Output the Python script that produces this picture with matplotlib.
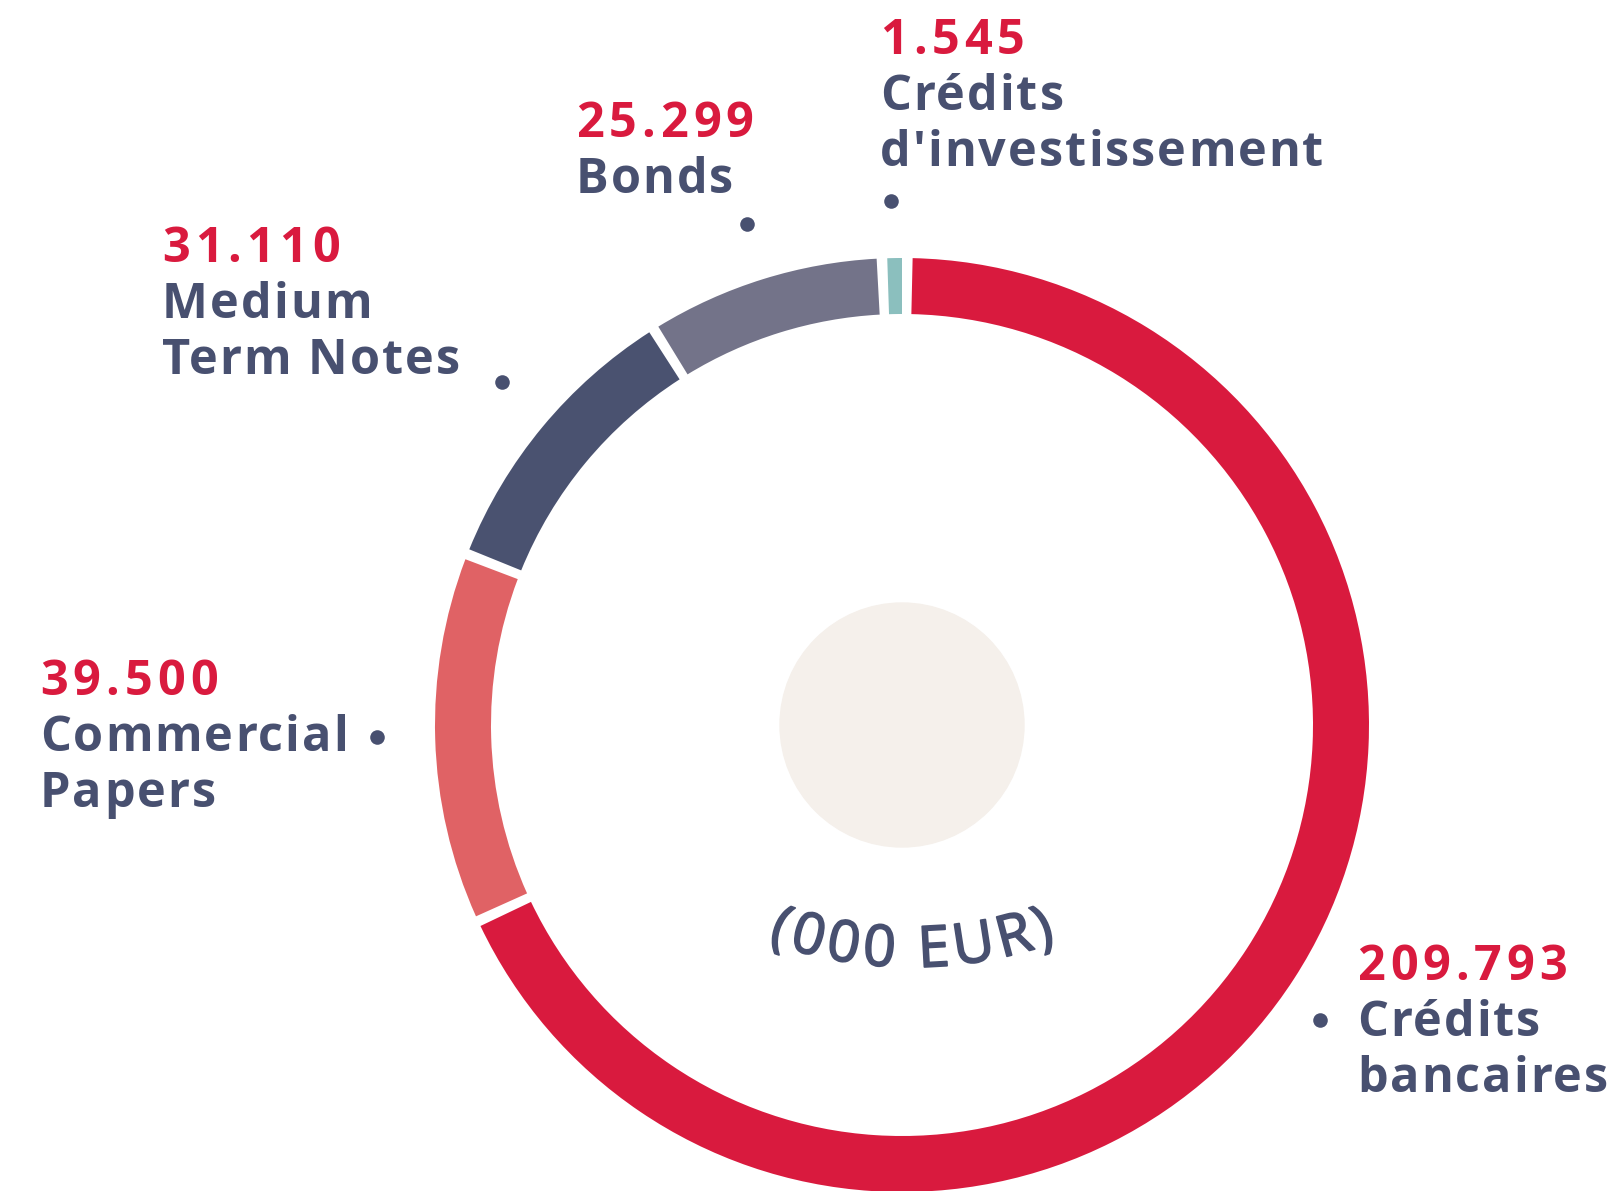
#!/usr/bin/env python3
"""
Donut chart of financing sources (000 EUR).
"""

import matplotlib
matplotlib.use("Agg")
import matplotlib.pyplot as plt
import matplotlib.patheffects as pe
import numpy as np

# Data
categories = ["Crédits bancaires", "Commercial Papers", "Medium Term Notes",
              "Bonds", "Crédits d'investissement"]
values = [209.793, 39.500, 31.110, 25.299, 1.545]
value_labels = ["209.793", "39.500", "31.110", "25.299", "1.545"]
label_lines = [["Crédits", "bancaires"], ["Commercial", "Papers"],
               ["Medium", "Term Notes"], ["Bonds"],
               ["Crédits", "d'investissement"]]
unit_label = "(000 EUR)"

colors = ["#d91a3e", "#e06265", "#4a5270", "#737389", "#8bbfbe"]
RED = "#d91a3e"
NAVY = "#485070"
FONT = "Open Sans"

W, H = 1614, 1191


def Y(y):
    """Convert a top-down pixel row into axis coordinates."""
    return H - y


class Measure:
    """Small helper to measure rendered text widths in pixels."""

    def __init__(self, fig, ax):
        self.ax = ax
        self.renderer = fig.canvas.get_renderer()
        self.cache = {}

    def width(self, s, **kw):
        key = (s, tuple(sorted((k, str(v)) for k, v in kw.items())))
        if key not in self.cache:
            t = self.ax.text(0, 0, s, **kw)
            self.cache[key] = t.get_window_extent(self.renderer).width
            t.remove()
        return self.cache[key]


def tracked_text(ax, m, x, y, s, track, **kw):
    """Draw a string left-aligned at (x, y) with extra letter spacing."""
    for i, ch in enumerate(s):
        if ch == " ":
            continue
        left = m.width(s[:i + 1], **kw) - m.width(ch, **kw) + i * track
        ax.text(x + left, y, ch, ha="left", va="baseline", **kw)


def draw_donut(ax):
    cx, cy = 902, Y(725)
    r_out, ring = 467, 56
    gap_px = 10

    wedges, _ = ax.pie(values, colors=colors, startangle=90,
                       counterclock=False, radius=r_out, center=(cx, cy),
                       wedgeprops=dict(width=ring, linewidth=0), frame=True)

    # white gap at each boundary, cut out of the larger neighbour
    gap_deg = np.degrees(gap_px / (r_out - ring / 2))
    n = len(wedges)
    for i in range(n):
        j = (i + 1) % n
        if values[i] >= values[j]:
            wedges[i].set_theta1(wedges[i].theta1 + gap_deg)
        else:
            wedges[j].set_theta2(wedges[j].theta2 - gap_deg)

    # beige disc in the middle
    ax.add_patch(plt.Circle((cx, cy), 122, color="#f5f0eb", zorder=1))


def draw_curved_text(ax, m, text, x0, y0, radius, track, **kw):
    """Lay the text along a smile-shaped arc whose lowest point is (x0, y0)."""
    n = len(text)
    total = m.width(text, **kw) + (n - 1) * track
    thick = [pe.withStroke(linewidth=1.3, foreground=kw.get("color", NAVY))]
    for i, ch in enumerate(text):
        if ch == " ":
            continue
        cw = m.width(ch, **kw)
        s = m.width(text[:i + 1], **kw) + i * track - cw / 2 - total / 2
        phi = s / radius
        x = x0 + radius * np.sin(phi)
        y = y0 + radius * (1 - np.cos(phi))
        ax.text(x, y, ch, ha="center", va="baseline",
                rotation=np.degrees(phi), rotation_mode="anchor",
                path_effects=thick, **kw)


def draw_labels(ax, m):
    # (x, first baseline, dot x, dot y) per slice, in pixel rows
    layout = [
        (1357, 980, 1320, 1020),
        (40, 695, 377, 737),
        (162, 262, 502, 382),
        (576, 137, 747, 224),
        (880, 54, 891, 201),
    ]
    step = 56
    style = dict(fontsize=35, family=FONT, weight="bold")
    for (x, y, dx, dy), val, lines in zip(layout, value_labels, label_lines):
        tracked_text(ax, m, x, Y(y), val, 5.0, color=RED, **style)
        for k, line in enumerate(lines):
            tracked_text(ax, m, x, Y(y + step * (k + 1)), line, 2.0,
                         color=NAVY, **style)
        ax.scatter([dx], [Y(dy)], s=110, color=NAVY, zorder=5, linewidths=0)


def main():
    fig = plt.figure(figsize=(W / 100, H / 100), dpi=100)
    ax = fig.add_axes([0, 0, 1, 1])
    m = Measure(fig, ax)

    draw_donut(ax)
    draw_labels(ax, m)

    ax.set_xlim(0, W)
    ax.set_ylim(0, H)
    ax.set_aspect("equal")
    ax.axis("off")

    draw_curved_text(ax, m, unit_label, 912, Y(967), 420, 5.0,
                     fontsize=41, family=FONT, color=NAVY)

    fig.savefig("out.png", dpi=100)


if __name__ == "__main__":
    main()
